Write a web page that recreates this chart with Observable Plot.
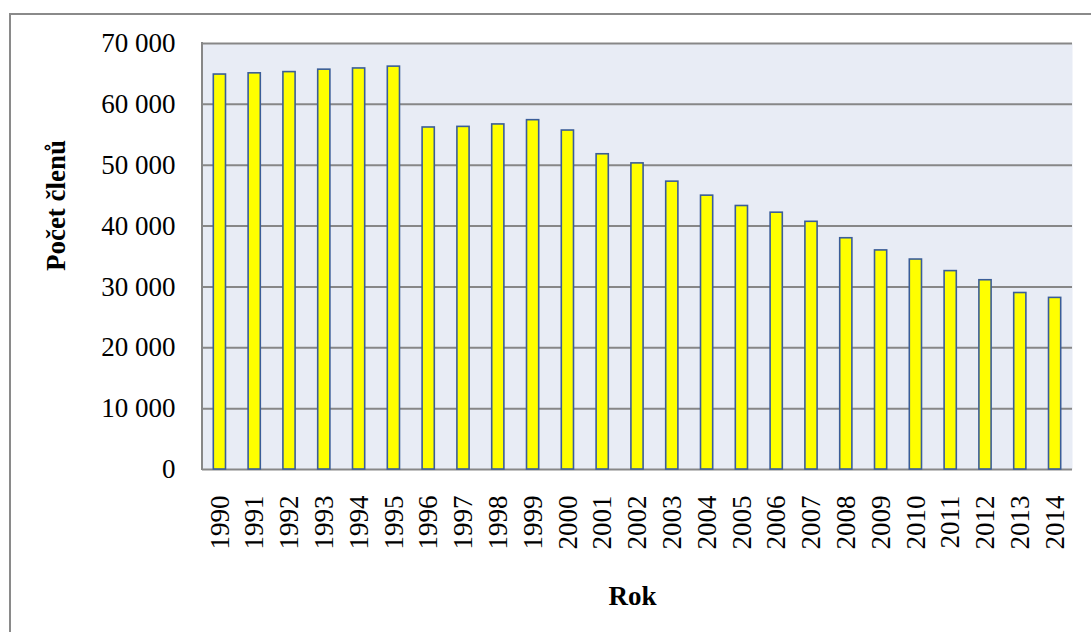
<!DOCTYPE html>
<html>
<head>
<meta charset="utf-8">
<script src="https://cdn.jsdelivr.net/npm/d3@7"></script>
<script src="https://cdn.jsdelivr.net/npm/@observablehq/plot@0.6"></script>
<style>
  html, body { margin: 0; padding: 0; background: #fff; }
  #wrap { position: relative; width: 1091px; height: 632px; overflow: hidden; }
  #border { position: absolute; left: 9px; top: 13px; width: 1200px; height: 800px;
            border-left: 2px solid #8a8a8a; border-top: 2px solid #8a8a8a; box-sizing: border-box; }
  #chart { position: absolute; left: 0; top: 0; }
  #chart svg, #chart svg text { font-family: "Liberation Serif", "Times New Roman", serif !important; }
</style>
</head>
<body>
<div id="wrap"><div id="border"></div><div id="chart"></div></div>
<script>
const years = ["1990","1991","1992","1993","1994","1995","1996","1997","1998","1999","2000","2001","2002","2003","2004","2005","2006","2007","2008","2009","2010","2011","2012","2013","2014"];
const members = [64900, 65100, 65300, 65700, 65900, 66200, 56200, 56300, 56700, 57400, 55700, 51800, 50300, 47300, 45000, 43300, 42200, 40700, 38000, 36000, 34500, 32600, 31100, 29000, 28200];
const yTicks = [0, 10000, 20000, 30000, 40000, 50000, 60000, 70000];
const yLabel = "Počet členů";
const xLabel = "Rok";

const data = years.map((y, i) => ({year: y, value: members[i]}));
const fmt = v => d3.format(",")(v).replace(/,/g, " ");
const serif = "Liberation Serif, Times New Roman, serif";

const chart = Plot.plot({
  width: 1091,
  height: 632,
  marginLeft: 202,
  marginRight: 19,
  marginTop: 43,
  marginBottom: 163,
  style: {fontFamily: serif, fontSize: "27px", color: "#000", background: "transparent", overflow: "visible"},
  x: {domain: years, paddingInner: 0.65, paddingOuter: 0.325, round: false, label: null},
  y: {domain: [0, 70000], label: null},
  marks: [
    Plot.frame({fill: "#E8ECF5", stroke: null}),
    Plot.ruleY(yTicks, {stroke: "#878787", strokeWidth: 2}),
    Plot.barY(data, {x: "year", y: "value", fill: "#FFFF00", stroke: "#3A5D98", strokeWidth: 1.6, insetLeft: 0, insetRight: 0}),
    Plot.axisY({ticks: yTicks, tickFormat: fmt, tickSize: 0, tickPadding: 27, fontSize: 27, fontFamily: serif, label: null}),
    Plot.axisX({tickRotate: -90, tickSize: 0, tickPadding: 26, fontSize: 27, fontFamily: serif, label: null}),
    Plot.text([yLabel], {frameAnchor: "left", textAnchor: "middle", dx: -146, dy: -51, rotate: -90, fontWeight: "bold", fontSize: 27, fontFamily: serif, fill: "#000"}),
    Plot.text([xLabel], {frameAnchor: "bottom", dy: 135, dx: -5, fontWeight: "bold", fontSize: 27, fontFamily: serif, fill: "#000"})
  ]
});
// left border of the plot area, drawn along the y scale range
const ys = chart.scale("y");
d3.select(chart).append("line")
  .attr("x1", 202).attr("x2", 202)
  .attr("y1", ys.range[0] + 1).attr("y2", ys.range[1] - 1)
  .attr("stroke", "#878787").attr("stroke-width", 2);
document.getElementById("chart").appendChild(chart);
</script>
</body>
</html>
